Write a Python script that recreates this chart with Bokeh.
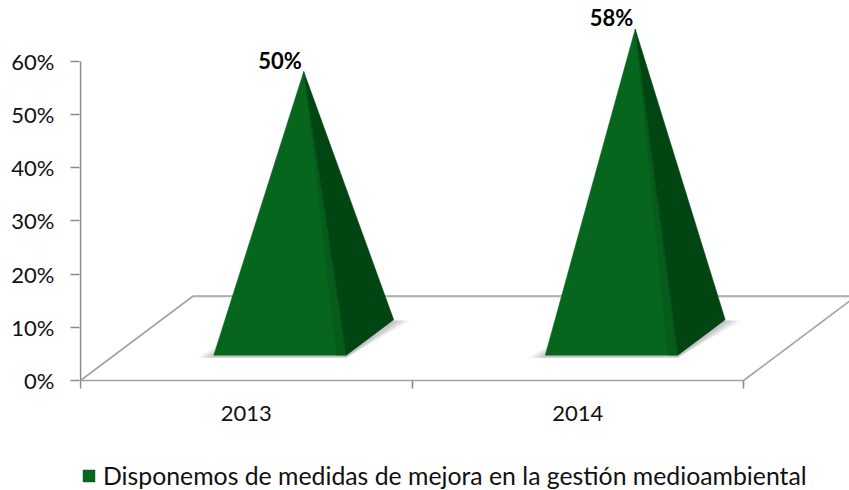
from bokeh.plotting import figure
from bokeh.models import Range1d, FixedTicker, Legend, LegendItem
from bokeh.embed import file_html
from bokeh.resources import INLINE
from bokeh.core.properties import value

# ---------------- data ----------------
CATEGORIES = ["2013", "2014"]
VALUES = [50, 58]
VALUE_LABELS = ["50%", "58%"]
Y_TICKS = [0, 10, 20, 30, 40, 50, 60]
Y_TICK_LABELS = ["0%", "10%", "20%", "30%", "40%", "50%", "60%"]
SERIES_NAME = "Disponemos de medidas de mejora en la gestión medioambiental"

# ---------------- style ----------------
FONT = "Lato"
FS = "22px"
LEG_FS = "24.8px"
FRONT = "#07661E"
SIDE = "#004512"
RIDGE = "#055C1B"
FLOOR = "#A3A3A3"
AXIS = "#8A8A8A"
TXT = "#111111"

W, H = 849, 490
BL = 79
FRAME_W, FRAME_H = W - BL, H
PX_X = 331.5   # pixels per category
PX_Y = 5.317   # pixels per percent
ZERO_Y = 380   # pixel row of the 0% line
x0 = -1.0 / PX_X
y0 = -(H - ZERO_Y) / PX_Y

DX = 112.7 / PX_X   # floor depth (x)
DY = 84.5 / PX_Y    # floor depth (y)
HALF_W = 0.2
D0, D1 = 0.30, 0.72
DM = (D0 + D1) / 2

p = figure(width=W, height=H, output_backend="svg", toolbar_location=None,
           x_range=Range1d(x0, x0 + FRAME_W / PX_X),
           y_range=Range1d(y0, y0 + FRAME_H / PX_Y),
           min_border_left=BL, min_border_right=0, min_border_top=0,
           min_border_bottom=0)
p.outline_line_color = None
p.grid.visible = False
p.background_fill_color = "white"
p.border_fill_color = "white"

n = len(CATEGORIES)
centers = [i + 0.5 for i in range(n)]

# floor (3D base plane)
fx = [[0, n], [0, DX], [DX, n + DX], [n, n + DX]]
fy = [[0, 0], [0, DY], [DY, DY], [0, DY]]
p.multi_line(fx, fy, line_color=FLOOR, line_width=1.6)
# soft shadow under the back edge
p.line([DX, n + DX], [DY - 1.2 / PX_Y, DY - 1.2 / PX_Y], line_color="#000000",
       line_alpha=0.08, line_width=2)

# y axis line from first to last tick
p.line([0, 0], [Y_TICKS[0], Y_TICKS[-1]], line_color=AXIS, line_width=1.6)

# shadows under pyramid bases
ex_px = [4, 8, 12, 16]
for e in ex_px:
    ex = e / PX_X
    sh = 2.5 / PX_Y
    sxs, sys_ = [], []
    for c in centers:
        sxs.append([c - HALF_W + D0 * DX - ex, c + HALF_W + D0 * DX, c + HALF_W + D1 * DX + ex,
                    c - HALF_W + D1 * DX])
        sys_.append([D0 * DY - sh, D0 * DY - sh, D1 * DY - sh * 0.3, D1 * DY])
    p.patches(sxs, sys_, fill_color="#000000", fill_alpha=0.06, line_color=None)

front_xs, front_ys, side_xs, side_ys, ridge_xs, ridge_ys = [], [], [], [], [], []
lab_x, lab_y = [], []
band = 10 / PX_X
for c, v in zip(centers, VALUES):
    fl = c - HALF_W + D0 * DX
    fr = c + HALF_W + D0 * DX
    br = c + HALF_W + D1 * DX
    ax_ = c + DM * DX
    ay_ = DM * DY + v
    front_xs.append([fl, fr, ax_])
    front_ys.append([D0 * DY, D0 * DY, ay_])
    side_xs.append([fr, br, ax_])
    side_ys.append([D0 * DY, D1 * DY, ay_])
    ridge_xs.append([fr - band, fr, ax_])
    ridge_ys.append([D0 * DY, D0 * DY, ay_])
    lab_x.append(c + D0 * DX)
    lab_y.append(ay_ + 2.1)

front_r = p.patches(front_xs, front_ys, fill_color=FRONT, line_color=FRONT, line_width=0.5)
p.patches(ridge_xs, ridge_ys, fill_color=RIDGE, line_color=None)
p.patches(side_xs, side_ys, fill_color=SIDE, line_color=SIDE, line_width=0.5)

p.text(lab_x, lab_y, text=VALUE_LABELS, text_align="center", text_baseline="alphabetic",
       text_font=value(FONT), text_font_style="bold", text_font_size=FS, text_color="#000000")

# axes
ya = p.yaxis[0]
ya.ticker = FixedTicker(ticks=Y_TICKS)
ya.major_label_overrides = {t: l for t, l in zip(Y_TICKS, Y_TICK_LABELS)}
ya.axis_line_color = None
ya.major_tick_line_color = AXIS
ya.major_tick_line_width = 1.6
ya.major_tick_out = 9
ya.major_tick_in = 0
ya.minor_tick_line_color = None
ya.major_label_standoff = 16
ya.major_label_text_font = FONT
ya.major_label_text_font_size = FS
ya.major_label_text_color = TXT

xa = p.xaxis[0]
xa.fixed_location = 0
xa.ticker = FixedTicker(ticks=centers, minor_ticks=list(range(n + 1)))
xa.major_label_overrides = {c: cat for c, cat in zip(centers, CATEGORIES)}
xa.axis_line_color = None
xa.major_tick_line_color = None
xa.major_tick_out = 0
xa.major_tick_in = 0
xa.minor_tick_line_color = AXIS
xa.minor_tick_line_width = 1.6
xa.minor_tick_out = 8
xa.minor_tick_in = 0
xa.major_label_standoff = 17
xa.major_label_text_font = FONT
xa.major_label_text_font_size = FS
xa.major_label_text_color = TXT

legend = Legend(items=[LegendItem(label=SERIES_NAME, renderers=[front_r])],
                location=(2, 0), orientation="horizontal", padding=0, margin=0,
                spacing=0, border_line_color=None, background_fill_alpha=0,
                glyph_width=15, glyph_height=15, label_standoff=7, label_height=28,
                label_text_font=FONT, label_text_font_size=LEG_FS, label_text_color=TXT)
p.add_layout(legend)

open("out.html", "w").write(file_html(p, INLINE))
